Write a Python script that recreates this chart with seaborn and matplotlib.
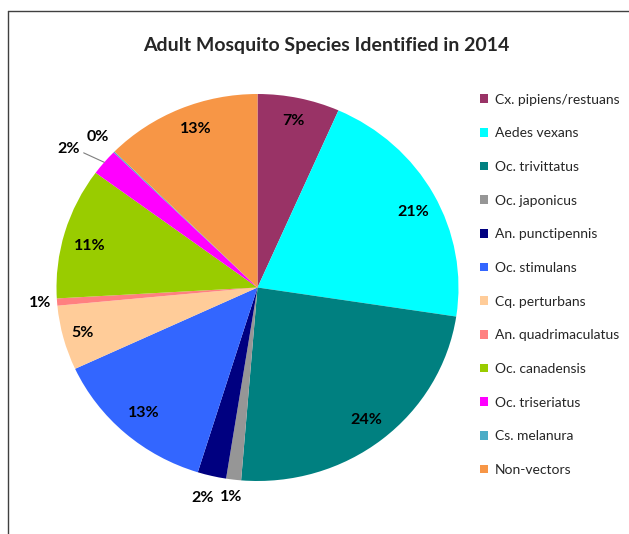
import numpy as np
import matplotlib
matplotlib.use("Agg")
import matplotlib.pyplot as plt
from matplotlib.patches import Patch
from matplotlib.lines import Line2D
import seaborn as sns

# Species and their share of adult mosquitoes identified (percent)
species = [
    "Cx. pipiens/restuans", "Aedes vexans", "Oc. trivittatus", "Oc. japonicus",
    "An. punctipennis", "Oc. stimulans", "Cq. perturbans", "An. quadrimaculatus",
    "Oc. canadensis", "Oc. triseriatus", "Cs. melanura", "Non-vectors",
]
share = [6.6, 20.8, 23.9, 1.2, 2.3, 13.3, 5.4, 0.6, 11.0, 2.2, 0.1, 12.6]

slice_colors = [
    "#993366", "#00FFFF", "#008080", "#969696", "#000080", "#3366FF",
    "#FFCC99", "#FF8080", "#99CC00", "#FF00FF", "#4BACC6", "#F79646",
]

# placement of each percentage label: radius (1.0 = pie edge) and angular nudge (deg)
label_radius = [0.88, 0.87, 0.875, 1.09, 1.12, 0.86, 0.90, 1.085, 0.86, 1.18, 1.11, 0.875]
label_nudge = [0, -2, 0, 0, -1, 0, 0, 0, 2, 3, 0, -2]

sns.set_theme(style="white")
plt.rcParams["font.family"] = ["Lato", "DejaVu Sans"]
palette = sns.color_palette(slice_colors)

W, H = 629, 534
fig = plt.figure(figsize=(W / 100, H / 100), dpi=100)
fig.patch.set_facecolor("white")

# pie occupies an ellipse centred at (257.5, 287.5) px
cx, cy, rx, ry = 257.5, 287.5, 201, 193.5
ax = fig.add_axes([(cx - rx) / W, (H - cy - ry) / H, 2 * rx / W, 2 * ry / H])

wedges, _, autotexts = ax.pie(
    share, colors=palette, startangle=90, counterclock=False,
    autopct=lambda p: f"{p:.0f}%", pctdistance=0.8,
    wedgeprops=dict(linewidth=0),
    textprops=dict(fontsize=11.5, fontweight="bold", color="black"),
)
ax.set_aspect("auto")
ax.set_xlim(-1, 1)
ax.set_ylim(-1, 1)
ax.axis("off")

for w, t, r, d in zip(wedges, autotexts, label_radius, label_nudge):
    mid = np.deg2rad((w.theta1 + w.theta2) / 2 + d)
    t.set_position((r * np.cos(mid), r * np.sin(mid)))
    t.set_ha("center")
    t.set_va("center")

# leader line for the small Oc. triseriatus slice
idx = species.index("Oc. triseriatus")
w = wedges[idx]
mid = np.deg2rad((w.theta1 + w.theta2) / 2)
start = np.deg2rad((w.theta1 + w.theta2) / 2 + 1.5)
ax.plot([1.11 * np.cos(start), 1.0 * np.cos(mid)],
        [1.11 * np.sin(start), 1.0 * np.sin(mid)],
        color="#7f7f7f", lw=0.8, clip_on=False)

fig.text(326 / W, 1 - 45 / H, "Adult Mosquito Species Identified in 2014",
         ha="center", va="center", fontsize=14, fontweight="bold")

handles = [Patch(facecolor=c, edgecolor="none") for c in palette]
fig.legend(handles, species, loc="upper left",
           bbox_to_anchor=(474 / W, 1 - 88 / H), frameon=False,
           fontsize=10, handlelength=0.6, handleheight=0.6,
           handletextpad=0.5, labelspacing=1.56, borderaxespad=0)

# chart border (left and top edges)
fig.add_artist(Line2D([8 / W, 8 / W], [0, 1 - 11 / H], color="#404040", lw=1,
                      transform=fig.transFigure))
fig.add_artist(Line2D([8 / W, 1], [1 - 11 / H, 1 - 11 / H], color="#404040", lw=1,
                      transform=fig.transFigure))

fig.savefig("out.png", dpi=100)
